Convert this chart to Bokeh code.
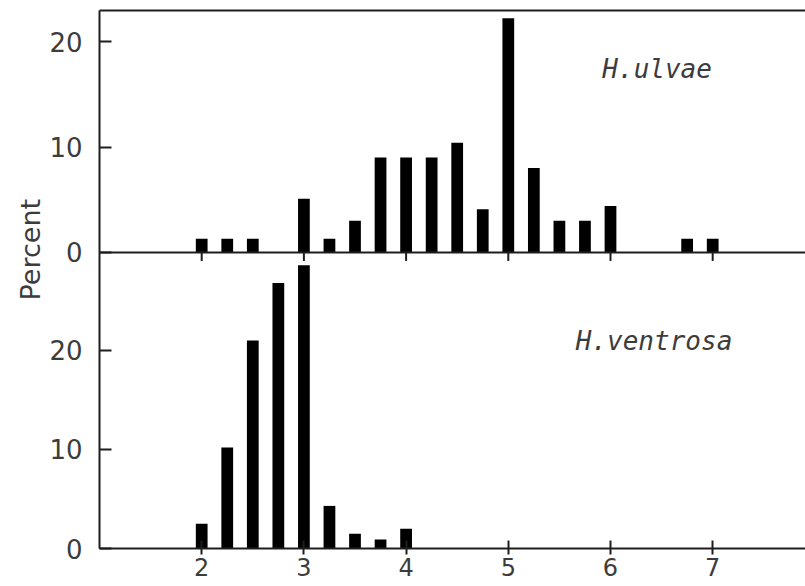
from bokeh.plotting import figure
from bokeh.models import Range1d, LinearAxis, FixedTicker, CustomJSTickFormatter, Label, Title
from bokeh.embed import file_html
from bokeh.resources import INLINE

# ---- data (percent of individuals per size class) ----
bins_ulvae = [2.0, 2.25, 2.5, 3.0, 3.25, 3.5, 3.75, 4.0, 4.25, 4.5, 4.75, 5.0, 5.25, 5.5, 5.75, 6.0, 6.75, 7.0]
pct_ulvae = [1.3, 1.3, 1.3, 5.1, 1.3, 3.0, 9.0, 9.0, 9.0, 10.4, 4.1, 22.2, 8.0, 3.0, 3.0, 4.4, 1.3, 1.3]

bins_ventrosa = [2.0, 2.25, 2.5, 2.75, 3.0, 3.25, 3.5, 3.75, 4.0]
pct_ventrosa = [2.5, 10.2, 21.0, 26.8, 28.6, 4.3, 1.5, 0.9, 2.0]

x_ticks = [2, 3, 4, 5, 6, 7]
y_ticks = [0, 10, 20]
label_ulvae = "H.ulvae"
label_ventrosa = "H.ventrosa"
y_title = "Percent"

# ---- ranges: lower panel on the main range, upper panel on an extra range ----
X_START, X_END = 1.0, 7.908
LOW_START, LOW_END = 0.0, 54.3
UP_START, UP_END = -28.06, 22.94

INK = "#1e1e1e"
TXT = "#3c3c3c"
FONT = "DejaVu Sans"
MONO = "DejaVu Sans Mono"

p = figure(width=805, height=586, output_backend="svg", toolbar_location=None,
           x_range=Range1d(X_START, X_END), y_range=Range1d(LOW_START, LOW_END),
           x_axis_type=None, y_axis_type=None,
           min_border_left=99, min_border_right=0, min_border_top=10, min_border_bottom=38)
p.extra_y_ranges = {"upper": Range1d(UP_START, UP_END)}
p.outline_line_color = None
p.background_fill_color = "white"
p.border_fill_color = "white"

# bars
p.vbar(x=bins_ulvae, top=pct_ulvae, bottom=0, width=0.115, fill_color="black",
       line_color=None, y_range_name="upper")
p.vbar(x=bins_ventrosa, top=pct_ventrosa, bottom=0, width=0.115, fill_color="black",
       line_color=None)

# divider = upper panel baseline, with ticks pointing down
p.hspan(y=[0], line_color=INK, line_width=2, y_range_name="upper")
p.segment(x0=x_ticks, x1=x_ticks, y0=[0] * len(x_ticks), y1=[-0.8] * len(x_ticks),
          line_color=INK, line_width=2, y_range_name="upper")

# bottom axis
xaxis = LinearAxis(ticker=FixedTicker(ticks=x_ticks),
                   axis_line_color=INK, axis_line_width=2,
                   major_tick_line_color=INK, major_tick_line_width=2,
                   major_tick_in=8, major_tick_out=6,
                   minor_tick_line_color=None,
                   major_label_text_font=FONT, major_label_text_font_size="24px",
                   major_label_text_color=TXT, major_label_standoff=3)
p.add_layout(xaxis, "below")

# top border line
top_axis = LinearAxis(ticker=FixedTicker(ticks=[]), axis_line_color=INK, axis_line_width=2,
                      major_tick_in=0, major_tick_out=0, minor_tick_line_color=None,
                      major_label_text_font_size="0px", major_label_standoff=0)
p.add_layout(top_axis, "above")

# left axis: one axis carrying ticks of both panels
def upper_to_main(v):
    return (v - UP_START) / (UP_END - UP_START) * (LOW_END - LOW_START) + LOW_START

main_ticks = list(y_ticks) + [upper_to_main(v) for v in y_ticks]
split = (max(y_ticks) + upper_to_main(min(y_ticks))) / 2.0
fmt = CustomJSTickFormatter(
    args=dict(split=split, ls=LOW_START, le=LOW_END, us=UP_START, ue=UP_END),
    code="""
    if (tick < split) { return String(Math.round(tick)); }
    return String(Math.round((tick - ls) / (le - ls) * (ue - us) + us));
    """)
yaxis = LinearAxis(ticker=FixedTicker(ticks=main_ticks), formatter=fmt,
                   axis_line_color=INK, axis_line_width=2,
                   major_tick_line_color=INK, major_tick_line_width=2,
                   major_tick_in=12, major_tick_out=0,
                   minor_tick_line_color=None,
                   major_label_text_font=FONT, major_label_text_font_size="26px",
                   major_label_text_color=TXT, major_label_standoff=17)
p.add_layout(yaxis, "left")

# y title, placed near the panels' divider
p.add_layout(Title(text=y_title, align="left", offset=248, vertical_align="middle",
                   text_font=FONT, text_font_size="27px", text_font_style="normal",
                   text_color=TXT, standoff=0), "left")

# species labels
p.add_layout(Label(x=5.92, y=17.4, y_range_name="upper", text=label_ulvae,
                   text_align="left", text_baseline="middle",
                   text_font=MONO, text_font_style="italic",
                   text_font_size="26px", text_color=TXT))
p.add_layout(Label(x=5.66, y=20.9, text=label_ventrosa,
                   text_align="left", text_baseline="middle",
                   text_font=MONO, text_font_style="italic",
                   text_font_size="26px", text_color=TXT))

open("out.html", "w").write(file_html(p, INLINE))
